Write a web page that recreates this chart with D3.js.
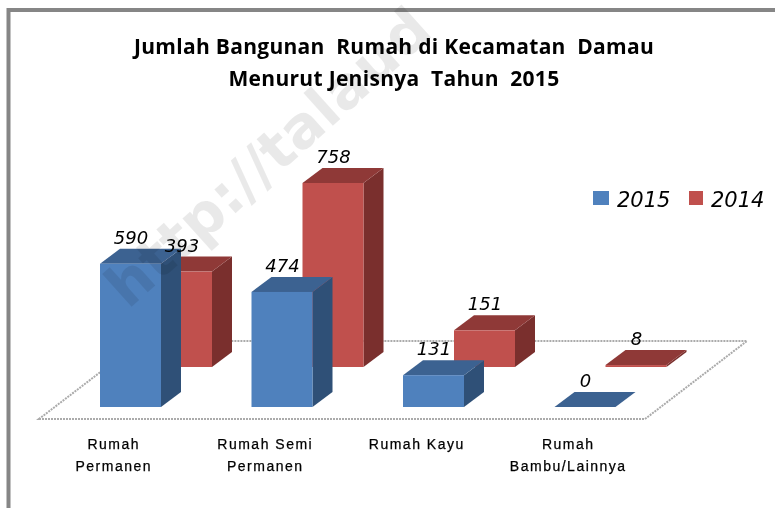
<!DOCTYPE html>
<html>
<head>
<meta charset="utf-8">
<script src="https://cdn.jsdelivr.net/npm/d3@7"></script>
<style>
  html, body { margin: 0; padding: 0; background: #fff; }
  svg { display: block; filter: blur(0.4px); }
</style>
</head>
<body>
<svg class="chart" width="775" height="508"></svg>
<script>
const categories = ["Rumah Permanen", "Rumah Semi Permanen", "Rumah Kayu", "Rumah Bambu/Lainnya"];
const categoryLines = [["Rumah", "Permanen"], ["Rumah Semi", "Permanen"], ["Rumah Kayu"], ["Rumah", "Bambu/Lainnya"]];
const years = ["2014", "2015"]; // back row first
const values2015 = [590, 474, 131, 0];
const values2014 = [393, 758, 151, 8];
const titleLines = ["Jumlah Bangunan  Rumah di Kecamatan  Damau", "Menurut Jenisnya  Tahun  2015"];

const svg = d3.select(".chart");
const width = 775;
const height = 508;

// floor of the 3D plot
const floor = { left: 39, right: 645, front: 419, back: 341, dx: 102 };
const depth = { x: 20, y: -15 };
const barWidth = 61;

const x = d3.scaleBand().domain(categories).range([floor.left, floor.right]);
const rowX = d3.scalePoint().domain(["2015", "2014"]).range([61, 112]);
const rowBase = d3.scalePoint().domain(["2015", "2014"]).range([407, 367]);
const h = d3.scaleLinear().domain([0, 758]).range([0, 184]);

const colors = {
  2015: { front: "#4f81bd", top: "#3c6291", side: "#2f5077" },
  2014: { front: "#c0504d", top: "#8f3937", side: "#7a2f2d" },
};

// frame, the right edge is cut off in the picture
svg.append("path")
  .attr("d", `M8.5,${height} V10 H${width}`)
  .attr("fill", "none")
  .attr("stroke", "#868686")
  .attr("stroke-width", 4);

// title
svg.append("g").selectAll("text")
  .data(titleLines)
  .join("text")
  .attr("x", 394)
  .attr("y", (d, i) => 54 + i * 32)
  .attr("text-anchor", "middle")
  .attr("font-family", "'Open Sans', sans-serif")
  .attr("font-weight", 700)
  .attr("font-size", 21)
  .attr("letter-spacing", 0.3)
  .attr("fill", "#000")
  .style("white-space", "pre")
  .text((d) => d);

// floor
svg.append("path")
  .attr("d", `M${floor.left},${floor.front} H${floor.right} L${floor.right + floor.dx},${floor.back} H${floor.left + floor.dx} Z`)
  .attr("fill", "#fff")
  .attr("stroke", "#ababab")
  .attr("stroke-width", 2)
  .attr("stroke-dasharray", "2 1");

// bars, back row first so the 2015 row covers it
const rows = { 2015: values2015, 2014: values2014 };
years.forEach((year) => {
  const c = colors[year];
  categories.forEach((cat, i) => {
    const value = rows[year][i];
    const x0 = x(cat) + rowX(year);
    const x1 = x0 + barWidth;
    const base = rowBase(year);
    const top = base - h(value);
    const g = svg.append("g").attr("class", "bar");
    g.append("path")
      .attr("d", `M${x1},${base} V${top} l${depth.x},${depth.y} V${base + depth.y} Z`)
      .attr("fill", c.side);
    g.append("path")
      .attr("d", `M${x0},${top} H${x1} l${depth.x},${depth.y} H${x0 + depth.x} Z`)
      .attr("fill", c.top);
    g.append("rect")
      .attr("x", x0)
      .attr("y", top)
      .attr("width", barWidth)
      .attr("height", base - top)
      .attr("fill", c.front);
  });
});

// watermark, runs off the top edge like the original
svg.append("text")
  .attr("transform", "translate(128,310) rotate(-42)")
  .attr("font-family", "'DejaVu Sans', sans-serif")
  .attr("font-weight", 700)
  .attr("font-size", 58)
  .attr("fill", "#000")
  .attr("fill-opacity", 0.085)
  .text("http://talaud");

// value labels
years.forEach((year) => {
  categories.forEach((cat, i) => {
    const value = rows[year][i];
    svg.append("text")
      .attr("x", x(cat) + rowX(year) + 31)
      .attr("y", rowBase(year) - h(value) - 20)
      .attr("text-anchor", "middle")
      .attr("font-family", "'DejaVu Sans', sans-serif")
      .attr("font-style", "italic")
      .attr("font-size", 18)
      .attr("fill", "#000")
      .text(value);
  });
});

// category labels
categories.forEach((cat, i) => {
  svg.append("text")
    .attr("y", 449)
    .attr("text-anchor", "middle")
    .attr("font-family", "'Liberation Sans', sans-serif")
    .attr("font-size", 14)
    .attr("letter-spacing", 1.5)
    .attr("fill", "#000")
    .attr("stroke", "#000")
    .attr("stroke-width", 0.25)
    .selectAll("tspan")
    .data(categoryLines[i])
    .join("tspan")
    .attr("x", x(cat) + x.bandwidth() / 2 - 1)
    .attr("dy", (d, j) => (j ? 22 : 0))
    .text((d) => d);
});

// legend
const legendYears = ["2015", "2014"];
const legendX = d3.scalePoint().domain(legendYears).range([593, 689]);
legendYears.forEach((year) => {
  svg.append("rect")
    .attr("x", legendX(year))
    .attr("y", 191)
    .attr("width", year === "2015" ? 16 : 14)
    .attr("height", 14)
    .attr("fill", colors[year].front);
  svg.append("text")
    .attr("x", legendX(year) + (year === "2015" ? 24 : 22))
    .attr("y", 207)
    .attr("font-family", "'DejaVu Sans', sans-serif")
    .attr("font-style", "italic")
    .attr("font-size", 21)
    .attr("fill", "#000")
    .text(year);
});
</script>
</body>
</html>
